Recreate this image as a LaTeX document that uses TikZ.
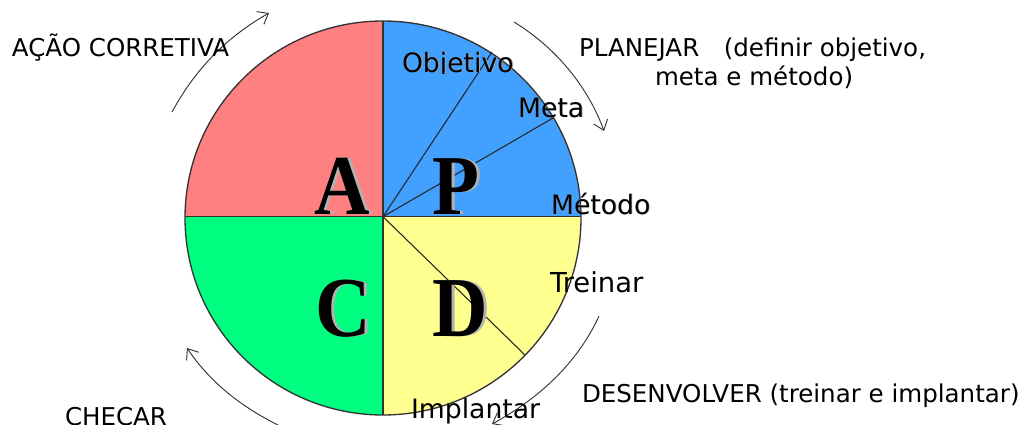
\documentclass[tikz,border=0pt]{standalone}
\usepackage{fontspec}
\setmainfont{DejaVu Sans}
\newfontfamily\bigserif{Liberation Serif}
\usetikzlibrary{arrows.meta}
\definecolor{cRed}{HTML}{FF8080}
\definecolor{cBlue}{HTML}{42A0FF}
\definecolor{cGreen}{HTML}{00FF80}
\definecolor{cYellow}{HTML}{FFFF90}
\newcommand{\bigch}[1]{\scalebox{0.9}[1]{#1}}
\tikzset{
  sector/.style={draw=black!80,line width=1pt},
  spoke/.style={draw=black!85,line width=0.8pt},
  cyclearrow/.style={draw=black!80,line width=0.7pt,-{Straight Barb[length=7pt,width=11pt,line width=0.7pt]}},
  lab/.style={anchor=base west,inner sep=0pt,outer sep=0pt,font=\fontsize{18.4}{20}\selectfont,text=black},
  inlab/.style={lab,font=\fontsize{20}{22}\selectfont},
  shade/.style={inlab,text=black!35},
  bigl/.style={anchor=base west,inner sep=0pt,outer sep=0pt,font=\fontsize{64}{64}\bigserif\bfseries,text=black},
  bigs/.style={bigl,text=black!30},
}
\begin{document}
\begin{tikzpicture}[x=0.75pt,y=-0.75pt]
\useasboundingbox (0,0) rectangle (1022,425);
\clip (0,0) rectangle (1022,425);
\coordinate (ctr) at (383,216.7);
\coordinate (pObj) at (492,52);
\coordinate (pMeta) at (553,118);
\coordinate (pImp) at (525,355);
\begin{scope}
\clip (383,218) ellipse[x radius=198,y radius=197];
\fill[cRed] (185,18) rectangle (383,216.7);
\fill[cBlue] (383,18) rectangle (582,216.7);
\fill[cGreen] (185,216.7) rectangle (383,416);
\fill[cYellow] (383,216.7) rectangle (582,416);
\end{scope}
\draw[sector] (383,218) ellipse[x radius=198,y radius=197];
\draw[sector] (185,216.7) -- (581,216.7);
\draw[sector] (383,21) -- (383,415);
\draw[spoke] (ctr) -- (pObj);
\draw[spoke] (ctr) -- (pMeta);
\draw[spoke] (ctr) -- (pImp);
% big letters
\node[bigs] (sA) at (317,214) {\bigch{A}};
\node[bigl] (lA) at (314,214) {\bigch{A}};
\node[bigs] (sP) at (435,214) {\bigch{P}};
\node[bigl] (lP) at (432,214) {\bigch{P}};
\node[bigs] (sC) at (318,336) {\bigch{C}};
\node[bigl] (lC) at (315,336) {\bigch{C}};
\node[bigs] (sD) at (435,336) {\bigch{D}};
\node[bigl] (lD) at (432,336) {\bigch{D}};
% arrows
\coordinate (a1s) at (172,112); \coordinate (a1e) at (269,13);
\coordinate (a2s) at (514,22);  \coordinate (a2e) at (604,131);
\coordinate (a3s) at (599,316); \coordinate (a3e) at (492,424);
\coordinate (a4s) at (278,425); \coordinate (a4e) at (187,348);
\draw[cyclearrow] (a1s) .. controls (198,64) and (232,34) .. (a1e);
\draw[cyclearrow] (a2s) .. controls (560,50) and (590,92) .. (a2e);
\draw[cyclearrow] (a3s) .. controls (578,362) and (540,398) .. (a3e);
\draw[cyclearrow] (a4s) .. controls (240,406) and (210,382) .. (a4e);
% labels
\node[lab] (acao) at (12,56) {AÇÃO CORRETIVA};
\node[lab] (plan) at (579,56) {PLANEJAR\hspace{1em}(definir objetivo,};
\node[lab] (mmm) at (655,85) {meta e método)};
\node[lab] (desv) at (582,402) {DESENVOLVER (treinar e implantar)};
\node[lab] (chec) at (65,425) {CHECAR};
\begin{scope}
\clip (395,40) rectangle (520,73);
\node[shade] (objS) at (403,72.7) {Objetivo};
\node[inlab] (obj) at (402,72) {Objetivo};
\end{scope}
\node[shade] (metaS) at (518.7,117.7) {Meta};
\node[inlab] (meta) at (518,117) {Meta};
\begin{scope}
\clip (540,185) rectangle (660,214.5);
\node[shade] (metS) at (551.7,214.7) {Método};
\node[inlab] (met) at (551,214) {Método};
\end{scope}
\node[inlab,font=\fontsize{20.6}{22}\selectfont] (trei) at (550,292) {Treinar};
\node[inlab] (impl) at (411,418) {Implantar};
\end{tikzpicture}
\end{document}
